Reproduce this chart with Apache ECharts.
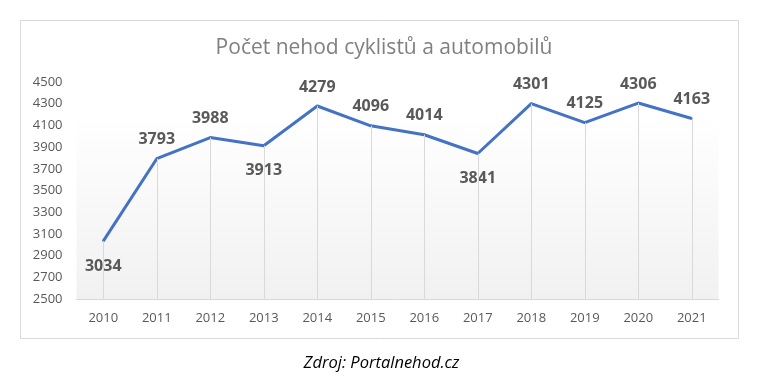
<!DOCTYPE html>
<html><head><meta charset="utf-8">
<script src="https://cdn.jsdelivr.net/npm/echarts@6/dist/echarts.min.js"></script>
<style>html,body{margin:0;padding:0;background:#fff}#c{width:763px;height:390px}</style>
</head><body><div id="c"></div>
<script>
const years = ['2010','2011','2012','2013','2014','2015','2016','2017','2018','2019','2020','2021'];
const accidents = [3034, 3793, 3988, 3913, 4279, 4096, 4014, 3841, 4301, 4125, 4306, 4163];
const labelBelow = [true, false, false, true, false, false, false, true, false, false, false, false];
const yMin = 2500, yMax = 4500, yStep = 200;

const chart = echarts.init(document.getElementById('c'));
const font = '"Open Sans", Lato, sans-serif';
chart.setOption({
  animation: false,
  backgroundColor: '#fff',
  title: {
    text: 'Počet nehod cyklistů a automobilů',
    left: 379, top: 33, textAlign: 'center',
    textStyle: { fontFamily: font, fontSize: 21, fontWeight: 'normal', color: '#808080' }
  },
  graphic: [
    { type: 'rect', shape: { x: 20.5, y: 20.5, width: 718, height: 318 }, style: { fill: 'none', stroke: '#d9d9d9', lineWidth: 1 }, silent: true, z: -1 },
    { type: 'text', left: 'center', top: 355, style: { text: 'Zdroj: Portalnehod.cz', font: 'italic 16.5px "Open Sans", Lato, sans-serif', fill: '#000' } }
  ],
  grid: {
    left: 76.5, right: 763 - 718.5, top: 82, bottom: 390 - 299,
    show: true, borderWidth: 0,
    backgroundColor: new echarts.graphic.LinearGradient(0, 0, 0, 1, [
      { offset: 0, color: '#ffffff' }, { offset: 0.15, color: '#ffffff' }, { offset: 1, color: '#f1f1f1' }
    ])
  },
  xAxis: {
    type: 'category', data: years, boundaryGap: true,
    axisLine: { lineStyle: { color: '#d9d9d9', width: 1 } },
    axisTick: { show: false },
    axisLabel: { color: '#595959', fontFamily: font, fontSize: 13, margin: 13 },
    splitLine: { show: false }
  },
  yAxis: {
    type: 'value', min: yMin, max: yMax, interval: yStep,
    axisLine: { show: false }, axisTick: { show: false },
    splitLine: { show: false },
    axisLabel: { color: '#595959', fontFamily: font, fontSize: 13, margin: 14, formatter: v => String(v) }
  },
  series: [{
    type: 'line',
    data: accidents.map((v, i) => ({
      value: v,
      label: { show: true, position: labelBelow[i] ? 'bottom' : 'top', distance: labelBelow[i] ? 16 : 10 }
    })),
    symbol: 'circle', symbolSize: 2, showSymbol: true,
    lineStyle: { color: '#4472c4', width: 3 },
    itemStyle: { color: '#4472c4' },
    label: { show: true, color: '#595959', fontFamily: font, fontSize: 16, fontWeight: 'bold' },
    labelLayout: { hideOverlap: false },
    markLine: {
      silent: true, symbol: 'none', animation: false,
      label: { show: false },
      lineStyle: { color: '#d9d9d9', width: 1, type: 'solid' },
      data: accidents.map((v, i) => [{ coord: [i, yMin] }, { coord: [i, v] }])
    },
    z: 3
  }]
});
</script></body></html>
